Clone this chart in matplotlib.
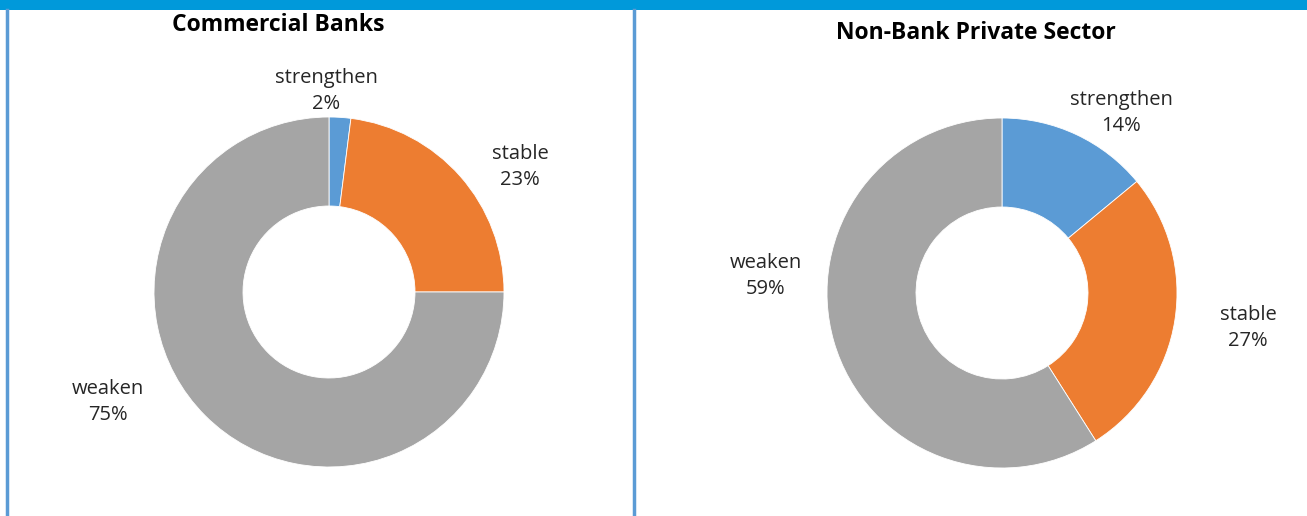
import matplotlib
matplotlib.use("Agg")
import matplotlib.pyplot as plt
from matplotlib.patches import Rectangle
from matplotlib.lines import Line2D

# data
categories = ["strengthen", "stable", "weaken"]
banks = [2, 23, 75]
nonbank = [14, 27, 59]
titles = ["Commercial Banks", "Non-Bank Private Sector"]
colors = ["#5B9BD5", "#ED7D31", "#A5A5A5"]

W, H = 1307, 516
plt.rcParams['font.family'] = ['Open Sans', 'DejaVu Sans']

fig = plt.figure(figsize=(W / 100, H / 100), dpi=100)
ax = fig.add_axes([0, 0, 1, 1])
ax.set_xlim(0, W)
ax.set_ylim(0, H)
ax.set_aspect('equal')
ax.axis('off')

# pixel layout (x, y from top)
centers = [(329, 292), (1002, 293)]
radius = 175
hole = 86
label_pos = [
    [(326, 91), (520, 167), (108, 402)],
    [(1121, 113), (1248, 328), (766, 276)],
]
title_pos = [(278, 25), (976, 33)]

for vals, c, lp, t, tp in zip([banks, nonbank], centers, label_pos, titles, title_pos):
    ax.pie(vals, colors=colors, startangle=90, counterclock=False,
           center=(c[0], H - c[1]), radius=radius,
           wedgeprops=dict(width=radius - hole, edgecolor='white', linewidth=0.6))
    for cat, v, (x, y) in zip(categories, vals, lp):
        ax.text(x, H - y, f"{cat}\n{v}%", ha='center', va='center',
                fontsize=14.5, color='#262626', linespacing=1.4)
    ax.text(tp[0], H - tp[1], t, ha='center', va='center', fontsize=16.5,
            fontweight='bold', color='black')

ax.set_xlim(0, W)
ax.set_ylim(0, H)

# frame decorations
fig.add_artist(Rectangle((0, 1 - 10 / H), 1, 10 / H, transform=fig.transFigure,
                         color='#0099DA', lw=0))
for xp in [6.5, 633.5]:
    fig.add_artist(Line2D([xp / W, xp / W], [0, 1 - 10 / H], transform=fig.transFigure,
                          color='#5B9BD5', lw=2.5))

fig.savefig("out.png", dpi=100)
